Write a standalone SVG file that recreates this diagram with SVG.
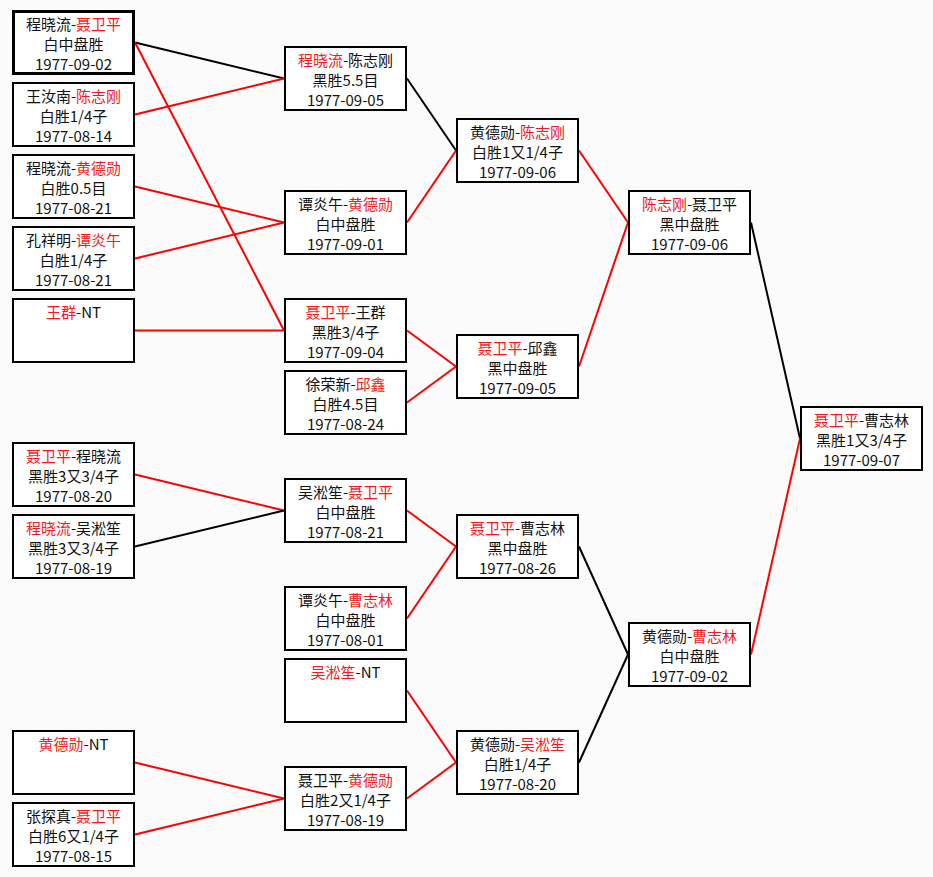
<svg xmlns="http://www.w3.org/2000/svg" width="933" height="877" viewBox="0 0 933 877">
<style>
.bg{fill:#fbfbfb}
.box{fill:#ffffff;stroke:#000;stroke-width:2}
.thick{stroke-width:3}
.t{font-family:"Noto Sans CJK SC","Noto Sans CJK JP",sans-serif;font-size:15px;fill:#111;text-anchor:middle}
.r{fill:#ee1c1c}
.lk{stroke:#000;stroke-width:2;fill:none}
.lr{stroke:#f00;stroke-width:2;fill:none}
</style>
<rect class="bg" x="0" y="0" width="933" height="877"/>
<g id="connectors">
<line class="lk" x1="135" y1="42.5" x2="284" y2="78.5"/>
<line class="lr" x1="135" y1="114.5" x2="284" y2="78.5"/>
<line class="lr" x1="135" y1="186.5" x2="284" y2="222.5"/>
<line class="lr" x1="135" y1="258.5" x2="284" y2="222.5"/>
<line class="lr" x1="135" y1="42.5" x2="284" y2="330.5"/>
<line class="lr" x1="135" y1="330.5" x2="284" y2="330.5"/>
<line class="lr" x1="135" y1="474.5" x2="284" y2="510.5"/>
<line class="lk" x1="135" y1="546.5" x2="284" y2="510.5"/>
<line class="lr" x1="135" y1="762.5" x2="284" y2="798.5"/>
<line class="lr" x1="135" y1="834.5" x2="284" y2="798.5"/>
<line class="lk" x1="407" y1="78.5" x2="456" y2="150.5"/>
<line class="lr" x1="407" y1="222.5" x2="456" y2="150.5"/>
<line class="lr" x1="407" y1="330.5" x2="456" y2="366.5"/>
<line class="lr" x1="407" y1="402.5" x2="456" y2="366.5"/>
<line class="lr" x1="407" y1="510.5" x2="456" y2="546.5"/>
<line class="lr" x1="407" y1="618.5" x2="456" y2="546.5"/>
<line class="lr" x1="407" y1="690.5" x2="456" y2="762.5"/>
<line class="lr" x1="407" y1="798.5" x2="456" y2="762.5"/>
<line class="lr" x1="579" y1="150.5" x2="628" y2="222.5"/>
<line class="lr" x1="579" y1="366.5" x2="628" y2="222.5"/>
<line class="lk" x1="579" y1="546.5" x2="628" y2="654.5"/>
<line class="lk" x1="579" y1="762.5" x2="628" y2="654.5"/>
<line class="lk" x1="751" y1="222.5" x2="800" y2="438.5"/>
<line class="lr" x1="751" y1="654.5" x2="800" y2="438.5"/>
</g>
<!-- Column 1 -->
<g id="c1n1"><rect class="box thick" x="13.5" y="11.5" width="120" height="62"/>
<text class="t" x="73.5" y="30"><tspan>程晓流-</tspan><tspan class="r">聂卫平</tspan></text>
<text class="t" x="73.5" y="50">白中盘胜</text><text class="t" x="73.5" y="70">1977-09-02</text></g>
<g id="c1n2"><rect class="box" x="13" y="83" width="121" height="63"/>
<text class="t" x="73.5" y="102"><tspan>王汝南-</tspan><tspan class="r">陈志刚</tspan></text>
<text class="t" x="73.5" y="122">白胜1/4子</text><text class="t" x="73.5" y="142">1977-08-14</text></g>
<g id="c1n3"><rect class="box" x="13" y="155" width="121" height="63"/>
<text class="t" x="73.5" y="174"><tspan>程晓流-</tspan><tspan class="r">黄德勋</tspan></text>
<text class="t" x="73.5" y="194">白胜0.5目</text><text class="t" x="73.5" y="214">1977-08-21</text></g>
<g id="c1n4"><rect class="box" x="13" y="227" width="121" height="63"/>
<text class="t" x="73.5" y="246"><tspan>孔祥明-</tspan><tspan class="r">谭炎午</tspan></text>
<text class="t" x="73.5" y="266">白胜1/4子</text><text class="t" x="73.5" y="286">1977-08-21</text></g>
<g id="c1n5"><rect class="box" x="13" y="299" width="121" height="63"/>
<text class="t" x="73.5" y="318"><tspan class="r">王群</tspan><tspan>-NT</tspan></text></g>
<g id="c1n6"><rect class="box" x="13" y="443" width="121" height="63"/>
<text class="t" x="73.5" y="462"><tspan class="r">聂卫平</tspan><tspan>-程晓流</tspan></text>
<text class="t" x="73.5" y="482">黑胜3又3/4子</text><text class="t" x="73.5" y="502">1977-08-20</text></g>
<g id="c1n7"><rect class="box" x="13" y="515" width="121" height="63"/>
<text class="t" x="73.5" y="534"><tspan class="r">程晓流</tspan><tspan>-吴淞笙</tspan></text>
<text class="t" x="73.5" y="554">黑胜3又3/4子</text><text class="t" x="73.5" y="574">1977-08-19</text></g>
<g id="c1n8"><rect class="box" x="13" y="731" width="121" height="63"/>
<text class="t" x="73.5" y="750"><tspan class="r">黄德勋</tspan><tspan>-NT</tspan></text></g>
<g id="c1n9"><rect class="box" x="13" y="803" width="121" height="63"/>
<text class="t" x="73.5" y="822"><tspan>张探真-</tspan><tspan class="r">聂卫平</tspan></text>
<text class="t" x="73.5" y="842">白胜6又1/4子</text><text class="t" x="73.5" y="862">1977-08-15</text></g>
<!-- Column 2 -->
<g id="c2n1"><rect class="box" x="285" y="47" width="121" height="63"/>
<text class="t" x="345.5" y="66"><tspan class="r">程晓流</tspan><tspan>-陈志刚</tspan></text>
<text class="t" x="345.5" y="86">黑胜5.5目</text><text class="t" x="345.5" y="106">1977-09-05</text></g>
<g id="c2n2"><rect class="box" x="285" y="191" width="121" height="63"/>
<text class="t" x="345.5" y="210"><tspan>谭炎午-</tspan><tspan class="r">黄德勋</tspan></text>
<text class="t" x="345.5" y="230">白中盘胜</text><text class="t" x="345.5" y="250">1977-09-01</text></g>
<g id="c2n3"><rect class="box" x="285" y="299" width="121" height="63"/>
<text class="t" x="345.5" y="318"><tspan class="r">聂卫平</tspan><tspan>-王群</tspan></text>
<text class="t" x="345.5" y="338">黑胜3/4子</text><text class="t" x="345.5" y="358">1977-09-04</text></g>
<g id="c2n4"><rect class="box" x="285" y="371" width="121" height="63"/>
<text class="t" x="345.5" y="390"><tspan>徐荣新-</tspan><tspan class="r">邱鑫</tspan></text>
<text class="t" x="345.5" y="410">白胜4.5目</text><text class="t" x="345.5" y="430">1977-08-24</text></g>
<g id="c2n5"><rect class="box" x="285" y="479" width="121" height="63"/>
<text class="t" x="345.5" y="498"><tspan>吴淞笙-</tspan><tspan class="r">聂卫平</tspan></text>
<text class="t" x="345.5" y="518">白中盘胜</text><text class="t" x="345.5" y="538">1977-08-21</text></g>
<g id="c2n6"><rect class="box" x="285" y="587" width="121" height="63"/>
<text class="t" x="345.5" y="606"><tspan>谭炎午-</tspan><tspan class="r">曹志林</tspan></text>
<text class="t" x="345.5" y="626">白中盘胜</text><text class="t" x="345.5" y="646">1977-08-01</text></g>
<g id="c2n7"><rect class="box" x="285" y="659" width="121" height="63"/>
<text class="t" x="345.5" y="678"><tspan class="r">吴淞笙</tspan><tspan>-NT</tspan></text></g>
<g id="c2n8"><rect class="box" x="285" y="767" width="121" height="63"/>
<text class="t" x="345.5" y="786"><tspan>聂卫平-</tspan><tspan class="r">黄德勋</tspan></text>
<text class="t" x="345.5" y="806">白胜2又1/4子</text><text class="t" x="345.5" y="826">1977-08-19</text></g>
<!-- Column 3 -->
<g id="c3n1"><rect class="box" x="457" y="119" width="121" height="63"/>
<text class="t" x="517.5" y="138"><tspan>黄德勋-</tspan><tspan class="r">陈志刚</tspan></text>
<text class="t" x="517.5" y="158">白胜1又1/4子</text><text class="t" x="517.5" y="178">1977-09-06</text></g>
<g id="c3n2"><rect class="box" x="457" y="335" width="121" height="63"/>
<text class="t" x="517.5" y="354"><tspan class="r">聂卫平</tspan><tspan>-邱鑫</tspan></text>
<text class="t" x="517.5" y="374">黑中盘胜</text><text class="t" x="517.5" y="394">1977-09-05</text></g>
<g id="c3n3"><rect class="box" x="457" y="515" width="121" height="63"/>
<text class="t" x="517.5" y="534"><tspan class="r">聂卫平</tspan><tspan>-曹志林</tspan></text>
<text class="t" x="517.5" y="554">黑中盘胜</text><text class="t" x="517.5" y="574">1977-08-26</text></g>
<g id="c3n4"><rect class="box" x="457" y="731" width="121" height="63"/>
<text class="t" x="517.5" y="750"><tspan>黄德勋-</tspan><tspan class="r">吴淞笙</tspan></text>
<text class="t" x="517.5" y="770">白胜1/4子</text><text class="t" x="517.5" y="790">1977-08-20</text></g>
<!-- Column 4 -->
<g id="c4n1"><rect class="box" x="629" y="191" width="121" height="63"/>
<text class="t" x="689.5" y="210"><tspan class="r">陈志刚</tspan><tspan>-聂卫平</tspan></text>
<text class="t" x="689.5" y="230">黑中盘胜</text><text class="t" x="689.5" y="250">1977-09-06</text></g>
<g id="c4n2"><rect class="box" x="629" y="623" width="121" height="63"/>
<text class="t" x="689.5" y="642"><tspan>黄德勋-</tspan><tspan class="r">曹志林</tspan></text>
<text class="t" x="689.5" y="662">白中盘胜</text><text class="t" x="689.5" y="682">1977-09-02</text></g>
<!-- Column 5 -->
<g id="c5n1"><rect class="box" x="801" y="407" width="121" height="63"/>
<text class="t" x="861.5" y="426"><tspan class="r">聂卫平</tspan><tspan>-曹志林</tspan></text>
<text class="t" x="861.5" y="446">黑胜1又3/4子</text><text class="t" x="861.5" y="466">1977-09-07</text></g>
</svg>
